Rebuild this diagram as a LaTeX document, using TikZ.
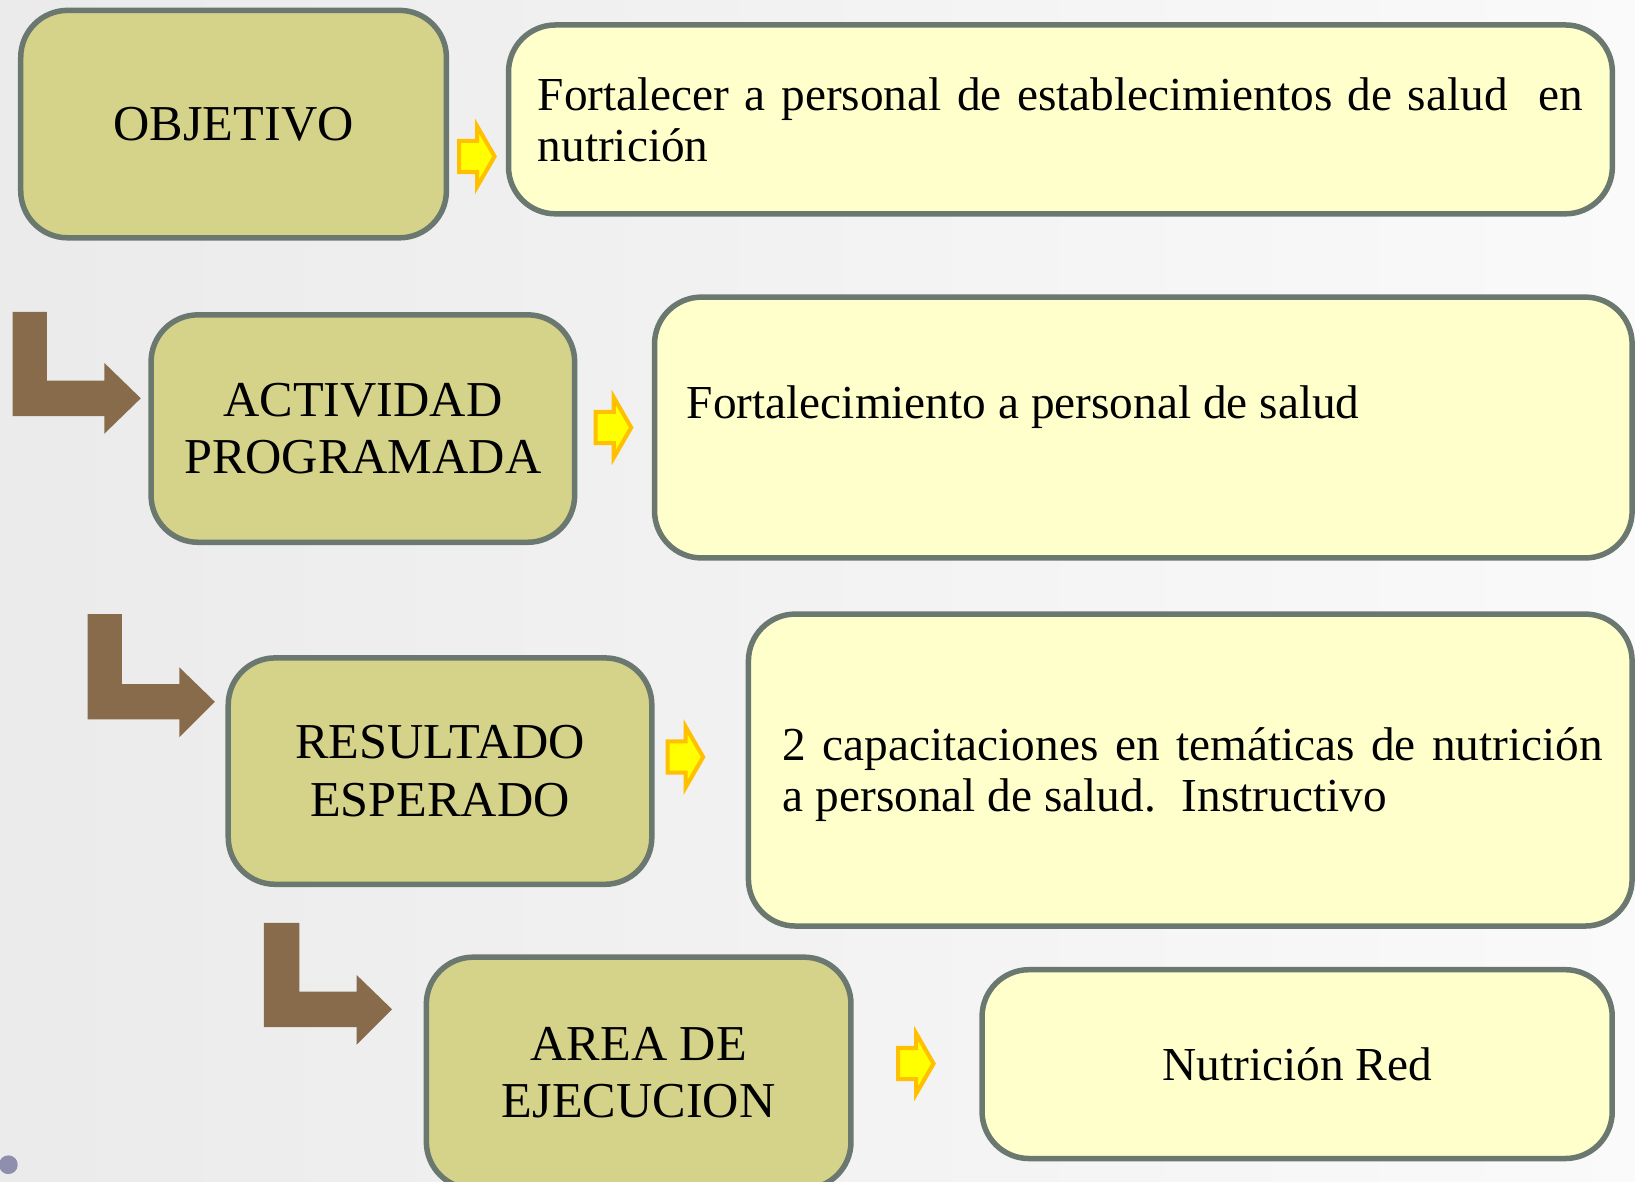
\documentclass[tikz,border=0pt]{standalone}
\usepackage{fontspec}
\setmainfont{Liberation Serif}
\usetikzlibrary{shapes.arrows}
\hyphenpenalty=10000

\definecolor{khaki}{HTML}{D5D28A}
\definecolor{cream}{HTML}{FFFFCC}
\definecolor{rim}{HTML}{6B786F}
\definecolor{bark}{HTML}{876B4A}
\definecolor{gold}{HTML}{FFC000}
\definecolor{lemon}{HTML}{FFFF00}
\definecolor{dotgray}{HTML}{8E8FAE}

\tikzset{
    labelbox/.style={draw=rim,fill=khaki,line width=1.5pt,rounded corners=0.45cm,
        inner sep=0pt,align=center,font=\fontsize{13.7}{15.6}\selectfont},
    infobox/.style={draw=rim,fill=cream,line width=1.5pt,rounded corners=0.45cm,inner sep=0pt},
    bodytext/.style={inner sep=0pt,font=\fontsize{12.9}{13.9}\selectfont},
    yarrow/.style={single arrow,draw=gold,fill=lemon,line width=1.1pt,inner xsep=0pt,
        inner ysep=0.13cm,minimum height=0.34cm,single arrow head extend=0.14cm,
        single arrow tip angle=120},
}

\begin{document}
\begin{tikzpicture}[x=0.01cm,y=-0.01cm]
    \useasboundingbox (0,0) rectangle (1568,1133);
    \clip (0,0) rectangle (1568,1133);
    \shade[left color=black!8,right color=black!2] (0,0) rectangle (1568,1133);
    \fill[dotgray] (8,1117) circle (0.09cm);

    \node[labelbox,minimum width=4.08cm,minimum height=2.18cm] at (224,119) (obj) {OBJETIVO};
    \node[infobox,bodytext,minimum width=10.58cm,minimum height=1.81cm,text width=10.02cm,align=justify] at (1017,114.5) (objtxt) {Fortalecer a personal de establecimientos de salud\ \ en\linebreak nutrición};

    \node[labelbox,minimum width=4.06cm,minimum height=2.18cm] at (348,411) (act) {ACTIVIDAD\\PROGRAMADA};
    \node[infobox,minimum width=9.37cm,minimum height=2.50cm] at (1096.5,410) (acttxt) {};
    \node[bodytext,anchor=west] at (658,390) (acttxtl) {Fortalecimiento a personal de salud};

    \node[labelbox,minimum width=4.06cm,minimum height=2.17cm] at (422,739.5) (res) {RESULTADO\\ESPERADO};
    \node[infobox,minimum width=8.47cm,minimum height=2.99cm] at (1141.5,738.5) (restxt) {};
    \node[bodytext,text width=7.86cm,align=justify] at (1144,742.5) (restxtl) {2 capacitaciones en temáticas de nutrición\linebreak a personal de salud.\hspace{0.25cm}Instructivo};

    \node[labelbox,minimum width=4.07cm,minimum height=2.22cm] at (612.5,1029) (area) {AREA DE\\EJECUCION};
    \node[infobox,bodytext,minimum width=6.04cm,minimum height=1.81cm] at (1244,1020.5) (areatxt) {Nutrición Red};

    \node[yarrow] at (453,150) (y1) {};
    \node[yarrow] at (584,410) (y2) {};
    \node[yarrow] at (653,726) (y3) {};
    \node[yarrow] at (874,1020) (y4) {};

    \fill[bark] (12,299) -- ++(33,0) -- ++(0,66) -- ++(55,0) -- ++(0,-17) -- ++(35,34)
        -- ++(-35,34) -- ++(0,-17) -- ++(-88,0) -- cycle;
    \fill[bark] (84,589) -- ++(33,0) -- ++(0,67) -- ++(55,0) -- ++(0,-16) -- ++(34,33)
        -- ++(-34,34) -- ++(0,-17) -- ++(-88,0) -- cycle;
    \fill[bark] (253,885) -- ++(34,0) -- ++(0,66) -- ++(55,0) -- ++(0,-16) -- ++(34,33)
        -- ++(-34,34) -- ++(0,-17) -- ++(-89,0) -- cycle;
\end{tikzpicture}
\end{document}
